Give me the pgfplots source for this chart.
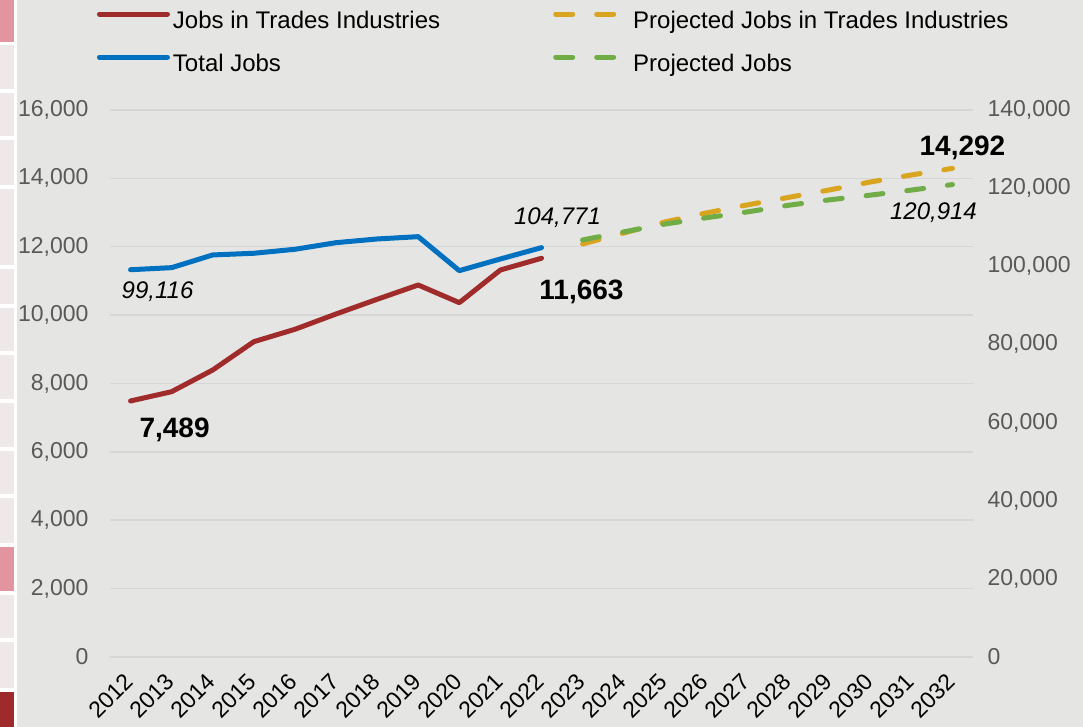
\documentclass[border=0pt]{standalone}
\usepackage{fontspec}
\setmainfont{Liberation Sans}
\usepackage{pgfplots}
\pgfplotsset{compat=1.18}
\definecolor{BgGray}{HTML}{E5E5E4}
\definecolor{GridGray}{HTML}{D6D6D6}
\definecolor{TickGray}{HTML}{595959}
\definecolor{TradeRed}{HTML}{A02B2B}
\definecolor{TotalBlue}{HTML}{0070C0}
\definecolor{ProjGold}{HTML}{D9A41F}
\definecolor{ProjGreen}{HTML}{70AD47}
\definecolor{SidePink}{HTML}{E3959F}
\definecolor{SideLight}{HTML}{EEE8E9}
\definecolor{SideDark}{HTML}{9E2A2B}

\pgfplotsset{
  base/.style={
    at={(110pt,70pt)},anchor=south west,scale only axis,
    width=863pt,height=547pt,xmin=-0.5,xmax=20.5,clip=false,
    axis line style={draw=none},tick style={draw=none},
    scaled y ticks=false,
    yticklabel style={font=\fontsize{23}{27}\selectfont,color=TickGray},
    /pgf/number format/fixed,
    /pgf/number format/1000 sep={,},
    /pgf/number format/assume math mode=true},
  solidline/.style={line width=5pt,line cap=round,line join=round},
  dashline/.style={line width=5pt,line cap=round,dash pattern=on 17pt off 24pt},
}

\pgfplotstableread{
x  trades total
0  7489   99116
1  7760   99650
2  8395   102900
3  9223   103330
4  9585   104350
5  10033  106040
6  10463  106990
7  10881  107580
8  10364  98880
9  11320  101870
10 11663  104771
}\actual

\pgfplotstableread{
x  trades jobs
11 12081  106730
12 12402  108800
13 12724  110800
14 12987  112400
15 13221  113900
16 13441  115600
17 13660  117000
18 13894  118200
19 14099  119500
20 14292  120914
}\projected

\begin{document}
\begin{tikzpicture}[x=1pt,y=1pt]
\fill[BgGray] (0,0) rectangle (1083,727);
\fill[white] (0,0) rectangle (16.5,727);
% side strip blocks, top/bottom measured from the top edge
\foreach \t/\b/\c in {0/42/SidePink,45/89/SideLight,93/136/SideLight,140/185/SideLight,
  189/265/SideLight,269/304/SideLight,308/351/SideLight,355/399/SideLight,403/447/SideLight,
  451/494/SideLight,498/543/SideLight,547/591/SidePink,595/638/SideLight,642/688/SideLight,
  692/727/SideDark}
  \fill[\c] (0,727-\t) rectangle (14,727-\b);

\begin{axis}[base,ymin=0,ymax=16000,
  ytick={0,2000,...,16000},ymajorgrids,
  grid style={color=GridGray,line width=1.5pt},
  xtick={0,...,20},
  xticklabels={2012,2013,2014,2015,2016,2017,2018,2019,2020,2021,2022,
    2023,2024,2025,2026,2027,2028,2029,2030,2031,2032},
  xticklabel style={font=\fontsize{23}{27}\selectfont,xshift=1pt,yshift=-18pt,
    rotate=45,anchor=east},
  yticklabel style={xshift=-18pt}]
\addplot[TradeRed,solidline] table[x=x,y=trades] {\actual};
\addplot[ProjGold,dashline] table[x=x,y=trades] {\projected};
\node[font=\fontsize{28}{32}\selectfont\bfseries] at (axis cs:0,7489) [xshift=44pt,yshift=-29pt] {7,489};
\node[font=\fontsize{28}{32}\selectfont\bfseries] at (axis cs:10,11663) [xshift=40pt,yshift=-34pt] {11,663};
\node[font=\fontsize{28}{32}\selectfont\bfseries] at (axis cs:20,14292) [xshift=10pt,yshift=20pt] {14,292};
\end{axis}

\begin{axis}[base,ymin=0,ymax=140000,
  axis x line=none,axis y line*=right,xtick=\empty,
  ytick={0,20000,...,140000},
  yticklabel style={xshift=11pt},
  legend columns=2,
  legend cell align=left,
  legend style={at={(axis description cs:-0.0151,1.1817)},anchor=north west,
    draw=none,fill=none,inner sep=0pt,outer sep=0pt,row sep=19pt,
    font=\fontsize{24}{28}\selectfont,
    nodes={inner sep=0pt,text height=18pt,text depth=6pt},
    /tikz/column 1/.append style={column sep=3pt},
    /tikz/column 2/.append style={column sep=113pt},
    /tikz/column 3/.append style={column sep=7pt}},
  legend image code/.code={\draw[#1] (0pt,8.5pt) -- (68pt,8.5pt);}]
\addplot[TotalBlue,solidline,forget plot] table[x=x,y=total] {\actual};
\addplot[ProjGreen,dashline,forget plot] table[x=x,y=jobs] {\projected};
\node[font=\fontsize{24}{28}\selectfont\itshape] at (axis cs:0,99116) [xshift=27pt,yshift=-22pt] {99,116};
\node[font=\fontsize{24}{28}\selectfont\itshape] at (axis cs:10,104771) [xshift=16pt,yshift=30pt] {104,771};
\node[font=\fontsize{24}{28}\selectfont\itshape] at (axis cs:20,120914) [xshift=-19pt,yshift=-28pt] {120,914};
\addlegendimage{TradeRed,solidline}
\addlegendentry{Jobs in Trades Industries}
\addlegendimage{ProjGold,dashline}
\addlegendentry{Projected Jobs in Trades Industries}
\addlegendimage{TotalBlue,solidline}
\addlegendentry{Total Jobs}
\addlegendimage{ProjGreen,dashline}
\addlegendentry{Projected Jobs}
\end{axis}
\end{tikzpicture}
\end{document}
